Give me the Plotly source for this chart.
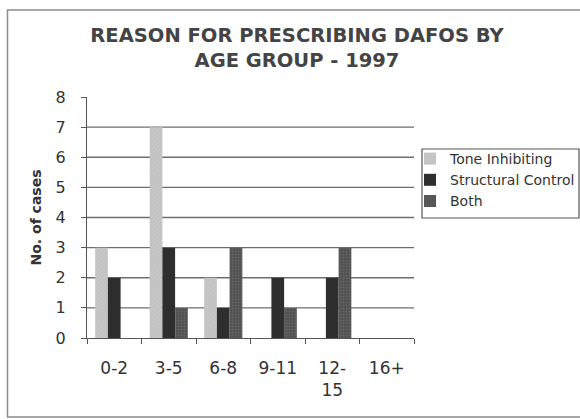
import plotly.graph_objects as go

categories = ["0-2", "3-5", "6-8", "9-11", "12-<br>15", "16+"]
tone_inhibiting = [3, 7, 2, 0, 0, 0]
structural_control = [2, 3, 1, 2, 2, 0]
both = [0, 1, 3, 1, 3, 0]
y_ticks = [0, 1, 2, 3, 4, 5, 6, 7, 8]

W, H = 580, 419
L, R, T, B = 87, 166, 97, 81
pw, ph = W - L - R, H - T - B

def px_x(p):
    return (p - L) / pw

def px_y(p):
    return (H - B - p) / ph

FONT = "DejaVu Sans, Arial, sans-serif"

fig = go.Figure()
fig.add_trace(go.Bar(
    name="Tone Inhibiting", x=categories, y=tone_inhibiting,
    marker=dict(color="#c6c6c6", line=dict(width=0),
                pattern=dict(shape="/", fgcolor="#b0b0b0", size=3, solidity=0.25)),
))
fig.add_trace(go.Bar(
    name="Structural Control", x=categories, y=structural_control,
    marker=dict(color="#2e2e2e", line=dict(width=0)),
))
fig.add_trace(go.Bar(
    name="Both", x=categories, y=both,
    marker=dict(color="#505050", line=dict(width=0),
                pattern=dict(shape=".", fgcolor="#7a7a7a", size=3, solidity=0.35)),
))

shapes = []
for v in y_ticks[1:-1]:
    shapes.append(dict(type="line", xref="paper", yref="y", x0=0, x1=1, y0=v, y1=v,
                       line=dict(color="#6e6e6e", width=1.4), layer="below"))
# outer frame
shapes.append(dict(type="rect", xref="paper", yref="paper",
                   x0=px_x(7.5), x1=px_x(584), y0=px_y(417), y1=px_y(10),
                   line=dict(color="#8c8c8c", width=1.5)))
# legend box
shapes.append(dict(type="rect", xref="paper", yref="paper",
                   x0=px_x(422), x1=px_x(579), y0=px_y(218), y1=px_y(149),
                   line=dict(color="#555", width=1.2)))

fig.update_layout(
    width=W, height=H,
    margin=dict(l=L, r=R, t=T, b=B, autoexpand=False),
    paper_bgcolor="white", plot_bgcolor="white",
    barmode="group", bargap=0.3, bargroupgap=0,
    font=dict(family=FONT, color="#333"),
    title=dict(text="<b>REASON FOR PRESCRIBING DAFOS BY<br>AGE GROUP - 1997</b>",
               x=297 / W, xanchor="center", y=1 - 42 / H, yanchor="middle",
               font=dict(size=19.5, color="#444", family=FONT)),
    showlegend=True,
    legend=dict(x=px_x(410), y=px_y(143), xanchor="left", yanchor="top",
                borderwidth=0, bgcolor="rgba(0,0,0,0)",
                font=dict(size=14, color="#333", family=FONT),
                itemwidth=30),
    shapes=shapes,
)
fig.update_xaxes(
    type="category", showline=True, linecolor="#555", linewidth=1.3,
    ticks="outside", tickson="boundaries", ticklen=5, tickcolor="#555",
    tickfont=dict(size=17, color="#333", family=FONT), showgrid=False,
    ticklabelstandoff=14,
)
fig.update_yaxes(
    range=[0, 8], tickvals=y_ticks, showline=True, linecolor="#555", linewidth=1.3,
    ticks="outside", ticklen=5, tickcolor="#555", showgrid=False, zeroline=False,
    tickfont=dict(size=16, color="#333", family=FONT), ticklabelstandoff=12,
    title=dict(text="<b>No. of cases</b>", font=dict(size=14, color="#333", family=FONT), standoff=10),
)

fig.write_html("out.html", config={"displayModeBar": False},
               post_script="document.body.style.margin='0px';")
